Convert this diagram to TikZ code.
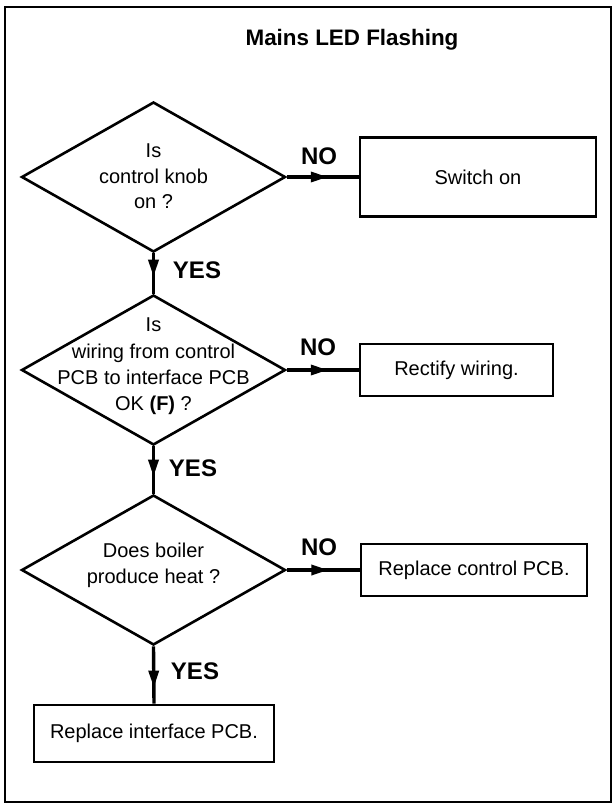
\documentclass[tikz,border=0pt]{standalone}
\usepackage{fontspec}
\setmainfont{Liberation Sans}
\usetikzlibrary{shapes.geometric,arrows.meta,decorations.markings}
\begin{document}
\begin{tikzpicture}[x=1pt,y=-1pt,
  dia/.style={draw, line width=2.6pt, diamond, minimum width=264pt, minimum height=150pt, inner sep=0pt},
  stepbox/.style={draw, line width=2.6pt, inner sep=0pt, font=\fontsize{20pt}{24pt}\selectfont},
  txt/.style={font=\fontsize{20pt}{#1}\selectfont, align=center, inner sep=0pt},
  lbl/.style={font=\fontsize{24pt}{24pt}\selectfont\bfseries, inner sep=0pt},
  flow/.style={line width=3.4pt, postaction={decorate},
    decoration={markings, mark=at position #1 with {\arrow{Triangle[length=17pt,width=10pt]}}}},
]
\path[use as bounding box] (0,0) rectangle (614,807);
\node[draw, line width=2.4pt, minimum width=606pt, minimum height=795pt, inner sep=0pt] (frame) at (308,404.5) {};
\node[font=\fontsize{22.4pt}{26pt}\selectfont\bfseries, anchor=base, inner sep=0pt] (title) at (352,45) {Mains LED Flashing};

% decisions
\node[dia] (d1) at (153.5,177) {};
\node[txt=25.5pt] (t1) at (153.5,176.5) {Is\\control knob\\on ?};
\node[dia] (d2) at (153.5,370) {};
\node[txt=26.3pt] (t2) at (153.5,366.5) {Is\\wiring from control\\PCB to interface PCB\\OK \textbf{(F)} ?};
\node[dia] (d3) at (153.5,570) {};
\node[txt=26pt] (t3) at (153.5,565.5) {Does boiler\\produce heat ?};

% actions
\node[stepbox, minimum width=236pt, minimum height=79pt] (b1) at (478,177) {Switch on};
\node[stepbox, minimum width=193pt, minimum height=52pt] (b2) at (456.5,370) {Rectify wiring.};
\node[stepbox, minimum width=226pt, minimum height=52pt] (b3) at (474,570) {Replace control PCB.};
\node[stepbox, minimum width=240pt, minimum height=57pt] (b4) at (154,733.5) {Replace interface PCB.};

% connectors
\draw[flow=0.57] (d1.east) -- (b1.west);
\draw[flow=0.57] (d2.east) -- (b2.west);
\draw[flow=0.57] (d3.east) -- (b3.west);
\draw[flow=0.58] (d1.south) -- (d2.north);
\draw[flow=0.64] (d2.south) -- (d3.north);
\draw[flow=0.72] (d3.south) -- (b4.north);

% labels
\node[lbl] (no1) at (319,156) {NO};
\node[lbl] (no2) at (318,347) {NO};
\node[lbl] (no3) at (319,547) {NO};
\node[lbl] (yes1) at (197,270) {YES};
\node[lbl] (yes2) at (193,468) {YES};
\node[lbl] (yes3) at (195,671) {YES};
\end{tikzpicture}
\end{document}
